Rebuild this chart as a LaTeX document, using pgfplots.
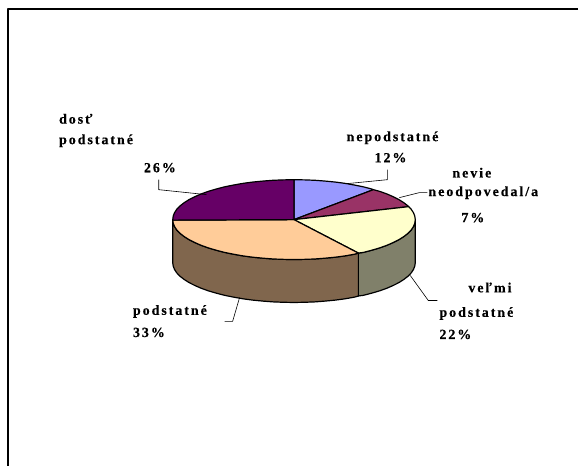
\documentclass[border=0pt]{standalone}
\usepackage{fontspec}
\usepackage{pgfplots}
\pgfplotsset{compat=1.18}
\setmainfont{Liberation Serif}[LetterSpace=14,BoldFeatures={FakeBold=0.4}]
\definecolor{slA}{HTML}{9999FF}
\definecolor{slB}{HTML}{993366}
\definecolor{slC}{HTML}{FFFFCC}
\definecolor{slD}{HTML}{FFCC99}
\definecolor{slE}{HTML}{660066}
\definecolor{sideC}{HTML}{80806A}
\definecolor{sideD}{HTML}{80664D}
\newcommand{\lab}[4][west]{\node[anchor=#1,inner sep=0pt,yshift=-1pt,font=\fontsize{14}{16}\selectfont\bfseries] at (axis cs:#2,#3) {#4};}
\begin{document}
\begin{tikzpicture}
\begin{axis}[
    scale only axis,
    width=579pt,
    height=467pt,
    xmin=0, xmax=579,
    ymin=0, ymax=467,
    y dir=reverse,
    hide axis,
    clip=false,
    every axis plot/.append style={line join=round},
]
% keeps the page at the full canvas, hide axis would shrink it to the drawn parts
\path (axis cs:0,0) rectangle (axis cs:579,467);

% frame: only top and left edges are visible
\addplot[black,line width=2pt] coordinates {(579,9) (8,9) (8,467)};

% side walls
\addplot[fill=sideC,draw=black,line width=1.2pt] coordinates {
(416,220) (415.5,223.5) (414.2,226.9) (411.9,230.4) (408.7,233.7) (404.6,236.9) (399.7,240) (394,242.9) (387.6,245.7) (380.4,248.3) (372.6,250.6) (364.2,252.8) (359,253.5)
(359,296.5) (364.2,295.8) (372.6,293.6) (380.4,291.3) (387.6,288.7) (394,285.9) (399.7,283) (404.6,279.9) (408.7,276.7) (411.9,273.4) (414.2,269.9) (415.5,266.5) (416,263)
} -- cycle;
\addplot[fill=sideD,draw=black,line width=1.2pt] coordinates {
(359,253.5) (355.3,254.6) (345.8,256.3) (336.1,257.6) (325.9,258.6) (315.6,259.4) (305.1,259.8) (294.5,260) (283.9,259.8) (273.4,259.4) (263.1,258.6) (252.9,257.6) (243.2,256.3) (233.7,254.6) (224.8,252.8) (216.4,250.6) (208.6,248.3) (201.4,245.7) (195,242.9) (189.3,240) (184.4,236.9) (180.3,233.7) (177.1,230.4) (174.8,226.9) (173.5,223.5) (173,220)
(173,263) (173.5,266.5) (174.8,269.9) (177.1,273.4) (180.3,276.7) (184.4,279.9) (189.3,283) (195,285.9) (201.4,288.7) (208.6,291.3) (216.4,293.6) (224.8,295.8) (233.7,297.6) (243.2,299.3) (252.9,300.6) (263.1,301.6) (273.4,302.4) (283.9,302.8) (294.5,303) (305.1,302.8) (315.6,302.4) (325.9,301.6) (336.1,300.6) (345.8,299.3) (355.3,297.6) (359,296.5)
} -- cycle;

% top face: nepodstatne 12
\addplot[fill=slA,draw=black,line width=1.2pt] coordinates {
(294.5,220) (294.5,180) (305.1,180.2) (315.6,180.6) (325.9,181.4) (336.1,182.4) (345.8,183.7) (355.3,185.4) (364.2,187.2) (372.6,189.4) (374,190)
} -- cycle;
% nevie 7
\addplot[fill=slB,draw=black,line width=1.2pt] coordinates {
(294.5,220) (374,190) (380.4,191.7) (387.6,194.3) (394,197.1) (399.7,200) (404.6,203.1) (408.7,206.3) (409.4,207)
} -- cycle;
% velmi podstatne 22
\addplot[fill=slC,draw=black,line width=1.2pt] coordinates {
(294.5,220) (409.4,207) (411.9,209.6) (414.2,213.1) (415.5,216.5) (416,220) (415.5,223.5) (414.2,226.9) (411.9,230.4) (408.7,233.7) (404.6,236.9) (399.7,240) (394,242.9) (387.6,245.7) (380.4,248.3) (372.6,250.6) (364.2,252.8) (359,253.5)
} -- cycle;
% podstatne 33
\addplot[fill=slD,draw=black,line width=1.2pt] coordinates {
(294.5,220) (359,253.5) (355.3,254.6) (345.8,256.3) (336.1,257.6) (325.9,258.6) (315.6,259.4) (305.1,259.8) (294.5,260) (283.9,259.8) (273.4,259.4) (263.1,258.6) (252.9,257.6) (243.2,256.3) (233.7,254.6) (224.8,252.8) (216.4,250.6) (208.6,248.3) (201.4,245.7) (195,242.9) (189.3,240) (184.4,236.9) (180.3,233.7) (177.1,230.4) (174.8,226.9) (173.5,223.5) (173,220.5)
} -- cycle;
% dost podstatne 26
\addplot[fill=slE,draw=black,line width=1.2pt] coordinates {
(294.5,220) (173,220.5) (173.5,216.5) (174.8,213.1) (177.1,209.6) (180.3,206.3) (184.4,203.1) (189.3,200) (195,197.1) (201.4,194.3) (208.6,191.7) (216.4,189.4) (224.8,187.2) (233.7,185.4) (243.2,183.7) (252.9,182.4) (263.1,181.4) (273.4,180.6) (283.9,180.2) (294.5,180)
} -- cycle;

% leader lines
\addplot[black,line width=0.6pt] coordinates {(159,180) (159,190) (207,195)};
\addplot[black,line width=0.6pt] coordinates {(388,170) (388,180) (347,184)};
\addplot[black,line width=0.6pt] coordinates {(428,193) (420,193) (400,198)};
\addplot[black,line width=0.6pt] coordinates {(411,276) (429,301) (438,301)};
\addplot[black,line width=0.6pt] coordinates {(240,298) (233,322) (225,322)};

% labels
\lab{59}{118}{dosť}
\lab{59}{140}{podstatné}
\lab{144}{167}{26\%}
\lab{347}{137}{nepodstatné}
\lab{375}{157}{12\%}
\lab{453}{172}{nevie}
\lab{429}{192}{neodpovedal/a}
\lab{462}{217}{7\%}
\lab{469}{287}{veľmi}
\lab{440}{313}{podstatné}
\lab{440}{334}{22\%}
\lab{133}{311}{podstatné}
\lab{133}{332}{33\%}
\end{axis}
\end{tikzpicture}
\end{document}
